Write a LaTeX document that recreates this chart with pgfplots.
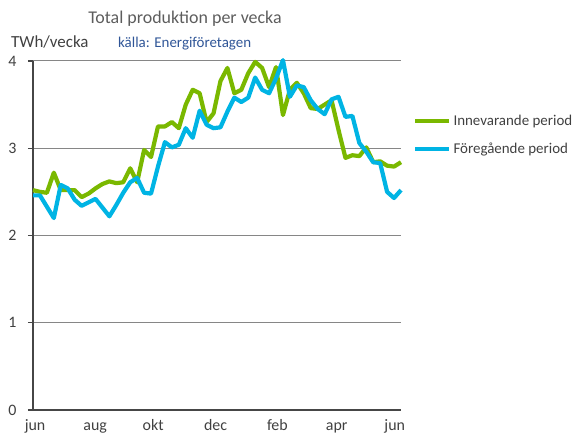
\documentclass[border=0pt]{standalone}
\usepackage{fontspec}
\setmainfont{Carlito}
\usepackage{pgfplots}
\usepackage{pgfplotstable}
\pgfplotsset{compat=1.18}
\definecolor{cgreen}{RGB}{122,184,0}
\definecolor{cblue}{RGB}{0,180,228}
\definecolor{txt}{RGB}{64,64,64}
\definecolor{axc}{RGB}{70,70,70}
\definecolor{gridc}{RGB}{134,134,134}
\definecolor{srcblue}{RGB}{47,85,151}

\pgfplotstableread{
i cur prev
0 2.52 2.46
1 2.50 2.46
2 2.49 2.33
3 2.72 2.20
4 2.52 2.58
5 2.52 2.54
6 2.52 2.41
7 2.44 2.34
8 2.48 2.38
9 2.54 2.42
10 2.59 2.32
11 2.62 2.22
12 2.60 2.35
13 2.61 2.49
14 2.77 2.61
15 2.61 2.66
16 2.98 2.49
17 2.90 2.48
18 3.25 2.79
19 3.25 3.07
20 3.30 3.01
21 3.23 3.04
22 3.50 3.23
23 3.67 3.12
24 3.63 3.43
25 3.30 3.27
26 3.40 3.23
27 3.77 3.24
28 3.92 3.42
29 3.63 3.58
30 3.67 3.53
31 3.86 3.58
32 3.99 3.81
33 3.92 3.67
34 3.70 3.63
35 3.93 3.80
36 3.38 4.01
37 3.67 3.59
38 3.75 3.72
39 3.63 3.70
40 3.46 3.55
41 3.45 3.45
42 3.50 3.39
43 3.55 3.56
44 3.21 3.59
45 2.89 3.36
46 2.92 3.37
47 2.91 3.06
48 3.01 2.96
49 2.84 2.84
50 2.85 2.83
51 2.80 2.50
52 2.79 2.43
53 2.84 2.52
}\datatable

\begin{document}
\begin{tikzpicture}
\useasboundingbox (0bp,0bp) rectangle (572bp,438bp);
\begin{axis}[
  at={(33bp,28bp)}, anchor=south west,
  width=368bp, height=349bp, scale only axis,
  xmin=0, xmax=53, ymin=0, ymax=4,
  clip=false,
  axis lines=left,
  axis line style={-, axc, line width=1.8bp},
  ymajorgrids, grid style={gridc, line width=1bp},
  ytick={0,1,2,3,4},
  xtick={0.3,8.95,17.3,26.3,35.2,43.75,52.1},
  xticklabels={jun,aug,okt,dec,feb,apr,jun},
  xtick style={draw=none},
  ytick style={axc, line width=1.2bp},
  tick align=outside,
  major tick length=5bp,
  /pgf/number format/assume math mode=true,
  tick label style={font=\fontsize{16}{17}\selectfont, text=txt},
  yticklabel style={xshift=-8bp},
  xticklabel style={text height=11.5bp, text depth=3.5bp, yshift=0bp},
  legend style={at={(1.033,0.787)}, anchor=west, draw=none, fill=none,
    font=\fontsize{15}{16}\selectfont, text=txt, row sep=12bp,
    inner sep=0pt, /tikz/every even column/.append style={column sep=0bp}},
  legend cell align=left,
  legend image code/.code={\draw[#1] (0bp,0bp) -- (34bp,0bp);},
]
\addplot[cgreen, line width=4.2bp, line join=round] table[x=i, y=cur] {\datatable};
\addlegendentry{Innevarande period}
\addplot[cblue, line width=4.2bp, line join=round] table[x=i, y=prev] {\datatable};
\addlegendentry{Föregående period}
\end{axis}
\node[anchor=center, text=txt!85, font=\fontsize{18}{19}\selectfont] at (185bp,419bp) {Total produktion per vecka};
\node[anchor=west, text=txt, font=\fontsize{17}{18}\selectfont, inner sep=0pt] at (11bp,396bp) {TWh/vecka};
\node[anchor=west, text=srcblue, font=\fontsize{15}{16}\selectfont, inner sep=0pt] at (118bp,394bp) {källa: Energiföretagen};
\end{tikzpicture}
\end{document}
